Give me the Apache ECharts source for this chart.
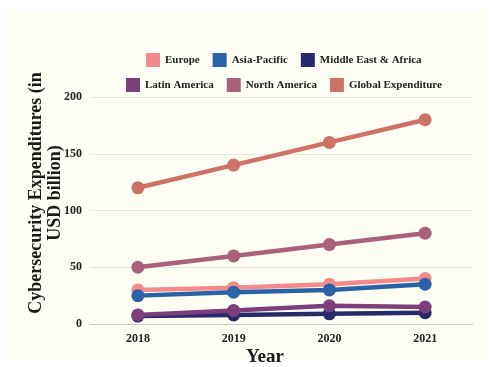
<!DOCTYPE html>
<html>
<head>
<meta charset="utf-8">
<script src="https://cdn.jsdelivr.net/npm/echarts@6/dist/echarts.min.js"></script>
<style>
  html, body { margin: 0; padding: 0; background: #ffffff; }
  #chart { width: 491px; height: 367px; }
</style>
</head>
<body>
<div id="chart"></div>
<script>
// Cybersecurity spending by region, USD billion
const years = ['2018', '2019', '2020', '2021'];
const europe = [30, 32, 35, 40];
const asiaPacific = [25, 28, 30, 35];
const middleEastAfrica = [7, 8, 9, 10];
const latinAmerica = [8, 12, 16, 15];
const northAmerica = [50, 60, 70, 80];
const globalExpenditure = [120, 140, 160, 180];

const seriesNames = ['Europe', 'Asia-Pacific', 'Middle East & Africa',
  'Latin America', 'North America', 'Global Expenditure'];
const seriesData = [europe, asiaPacific, middleEastAfrica,
  latinAmerica, northAmerica, globalExpenditure];
const colors = ['#f4898b', '#2a62a7', '#27296b', '#7c3f7b', '#a9607b', '#cd7264'];

const serif = '"Liberation Serif", "Times New Roman", serif';

const chart = echarts.init(document.getElementById('chart'), null, { renderer: 'canvas' });

const legendStyle = {
  icon: 'rect',
  itemWidth: 14,
  itemHeight: 14,
  itemGap: 13,
  textStyle: { fontFamily: serif, fontWeight: 'bold', fontSize: 11, color: '#222' }
};

chart.setOption({
  animation: false,
  color: colors,
  graphic: [
    {
      type: 'rect', z: -10, silent: true,
      shape: { x: 7, y: 10, width: 477, height: 350 },
      style: { fill: '#fefef4' }
    },
    {
      type: 'text', silent: true,
      x: 46, y: 193, rotation: Math.PI / 2,
      style: {
        text: 'Cybersecurity Expenditures (in\nUSD billion)',
        font: 'bold 18px ' + serif,
        fill: '#1a1a1a',
        textAlign: 'center',
        textVerticalAlign: 'middle',
        lineHeight: 19
      }
    },
    {
      type: 'text', silent: true,
      x: 265, y: 357,
      style: {
        text: 'Year',
        font: 'bold 19px ' + serif,
        fill: '#1a1a1a',
        textAlign: 'center',
        textVerticalAlign: 'middle'
      }
    }
  ],
  legend: [
    Object.assign({ data: seriesNames.slice(0, 3), left: 141, top: 48 }, legendStyle),
    Object.assign({ data: seriesNames.slice(3), left: 121, top: 73 }, legendStyle)
  ],
  grid: { left: 90, right: 18, top: 97, bottom: 43 },
  xAxis: {
    type: 'category',
    data: years,
    boundaryGap: true,
    axisLine: { lineStyle: { color: '#c9c9c2', width: 1 } },
    axisTick: { show: false },
    axisLabel: { fontFamily: serif, fontWeight: 'bold', fontSize: 12, color: '#222', margin: 9 }
  },
  yAxis: {
    type: 'value',
    min: 0, max: 200, interval: 50,
    axisLine: { show: false },
    axisTick: { show: false },
    splitLine: { lineStyle: { color: '#e7e7de', width: 1 } },
    axisLabel: { fontFamily: serif, fontWeight: 'bold', fontSize: 12, color: '#222', margin: 8 }
  },
  series: seriesNames.map((name, i) => ({
    name: name,
    type: 'line',
    data: seriesData[i],
    symbol: 'circle',
    symbolSize: 13,
    lineStyle: { width: 4.5, color: colors[i] },
    itemStyle: { color: colors[i] },
    z: 2 + i
  }))
});
</script>
</body>
</html>
